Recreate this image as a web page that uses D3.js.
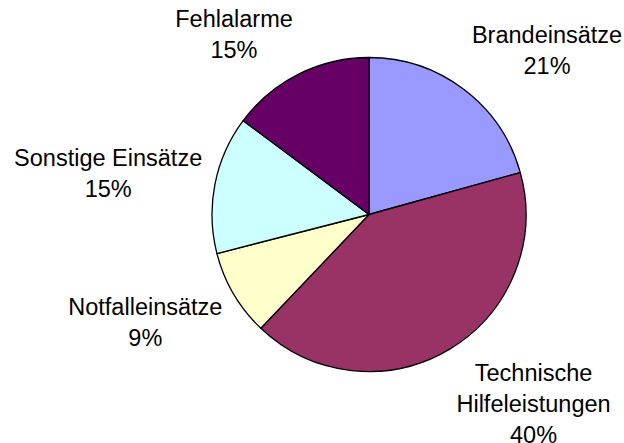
<!DOCTYPE html>
<html>
<head>
<meta charset="utf-8">
<script src="https://cdn.jsdelivr.net/npm/d3@7"></script>
<style>
  html, body { margin: 0; padding: 0; background: #fff; }
  #chart { width: 624px; height: 443px; }
  text { font-family: "Liberation Sans", Arial, sans-serif; fill: #000; }
</style>
</head>
<body>
<div id="chart"></div>
<script>
// data (clockwise from 12 o'clock)
const categories = [["Brandeinsätze"], ["Technische", "Hilfeleistungen"], ["Notfalleinsätze"], ["Sonstige Einsätze"], ["Fehlalarme"]];
const values = [20.7, 41.4, 8.9, 14.2, 14.8];
const percentLabels = ["21%", "40%", "9%", "15%", "15%"];
const colors = ["#9999FF", "#993366", "#FFFFCC", "#CCFFFF", "#660066"];

const width = 624, height = 443;
const cx = 369, cy = 214.5, radius = 157;

const svg = d3.select("#chart").append("svg")
    .attr("width", width)
    .attr("height", height);

const g = svg.append("g")
    .attr("transform", `translate(${cx},${cy})`);

const pie = d3.pie().sort(null).value(d => d);
const arcs = pie(values);

const arc = d3.arc().innerRadius(0).outerRadius(radius);

g.selectAll("path.slice")
    .data(arcs)
    .enter().append("path")
    .attr("class", "slice")
    .attr("d", arc)
    .attr("fill", (d, i) => colors[i])
    .attr("stroke", "#000")
    .attr("stroke-width", 1.3)
    .attr("stroke-linejoin", "round");

// labels, placed just outside the rim (excel-like)
const lineH = 31, gap = 13;
arcs.forEach((d, i) => {
    const a = (d.startAngle + d.endAngle) / 2;
    const s = Math.sin(a), c = Math.cos(a);

    const t = g.append("text")
        .attr("text-anchor", "middle")
        .attr("font-size", "23.5px");
    const lines = categories[i].concat([percentLabels[i]]);
    lines.forEach((l, j) => {
        t.append("tspan").attr("x", 0).attr("dy", j === 0 ? 0 : lineH).text(l);
    });

    const bb = t.node().getBBox();
    const sx = Math.sign(s) * Math.min(1, Math.abs(s) * 2.5);
    const sy = -Math.sign(c) * Math.min(1, Math.abs(c) * 1.5);
    const px = (radius + gap) * s + sx * bb.width / 2;
    const py = -(radius + gap) * c + sy * bb.height / 2;
    t.attr("transform", `translate(${px - (bb.x + bb.width / 2)},${py - (bb.y + bb.height / 2)})`);
});
</script>
</body>
</html>
